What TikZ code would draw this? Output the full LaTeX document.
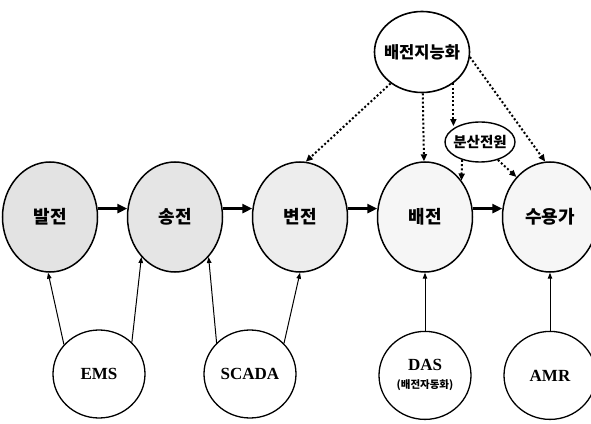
\documentclass[tikz,border=0pt]{standalone}
\usepackage{fontspec}
\setmainfont{Liberation Serif}
\newfontfamily\kr{Noto Sans CJK KR}
\usepackage{tikz}
\usetikzlibrary{positioning,shapes.geometric,arrows.meta}

\begin{document}
\begin{tikzpicture}[
    x=1pt, y=1pt,
    node distance=28.5pt,
    stage/.style={ellipse, draw, line width=1.5pt, fill=gray!18, inner sep=0pt, minimum width=95pt, minimum height=110pt, font=\kr\bfseries\fontsize{18}{18}\selectfont},
    system/.style={ellipse, draw, line width=1.3pt, inner sep=0pt, minimum width=92pt, minimum height=88pt, align=center, font=\bfseries\fontsize{17}{17}\selectfont},
    flow/.style={-{Triangle[length=10pt,width=9pt]}, line width=3pt},
    ctrl/.style={-{Triangle[length=7pt,width=6pt]}, line width=2pt, dash pattern=on 2pt off 2.2pt},
    link/.style={-{Triangle[length=6pt,width=4.5pt]}, line width=1pt}
]
\useasboundingbox (0,0) rectangle (591,423);

% Nodes
\node[stage, fill=gray!22] (baljeon) at (50,206) {발전};
\node[stage, fill=gray!20, right=of baljeon] (songjeon) {송전};
\node[stage, fill=gray!14, right=of songjeon] (byeonjeon) {변전};
\node[stage, fill=gray!7, right=of byeonjeon] (baejeon) {배전};
\node[stage, fill=gray!7, right=of baejeon] (suyongga) {수용가};

\node[ellipse, draw, line width=1.6pt, inner xsep=-10pt, inner ysep=0pt, minimum width=95pt, minimum height=81pt, font=\kr\bfseries\fontsize{16.5}{16.5}\selectfont] (jineung) at (422,371) {배전지능화};
\node[ellipse, draw, line width=1.4pt, inner xsep=-5pt, inner ysep=0pt, minimum width=70pt, minimum height=40pt, font=\kr\bfseries\fontsize{14.5}{14.5}\selectfont] (bunsan) at (480,281) {분산전원};

\node[system] (ems) at (99,49) {EMS};
\node[system] (scada) at (250,49) {SCADA};
\node[system, below=58pt of baejeon] (das) {DAS\\[1pt]{\kr\fontsize{10.5}{10.5}\selectfont (배전자동화)}};
\node[system, below=58pt of suyongga] (amr) {AMR};

% Main flow
\draw[flow] (baljeon.10) -- (songjeon.170);
\draw[flow] (songjeon.10) -- (byeonjeon.170);
\draw[flow] (byeonjeon.10) -- (baejeon.170);
\draw[flow] (baejeon.10) -- (suyongga.170);

% Dotted arrows (control)
\draw[ctrl] (jineung.225) -- (byeonjeon.84);
\draw[ctrl] (jineung) -- (baejeon);
\draw[ctrl] (jineung.-45) -- (jineung.-45 |- bunsan.145);
\draw[ctrl] (jineung.-6) -- (suyongga.95);
\draw[ctrl] (bunsan.-135) -- (baejeon.45);
\draw[ctrl] (bunsan.-45) -- (suyongga.130);

% Thin arrows from systems
\draw[link] (ems.140) -- (baljeon.268);
\draw[link] (ems.44) -- (songjeon.230);
\draw[link] (scada.137) -- (songjeon.310);
\draw[link] (scada.42) -- (byeonjeon.south);
\draw[link] (das) -- (baejeon);
\draw[link] (amr) -- (suyongga);

\end{tikzpicture}
\end{document}
